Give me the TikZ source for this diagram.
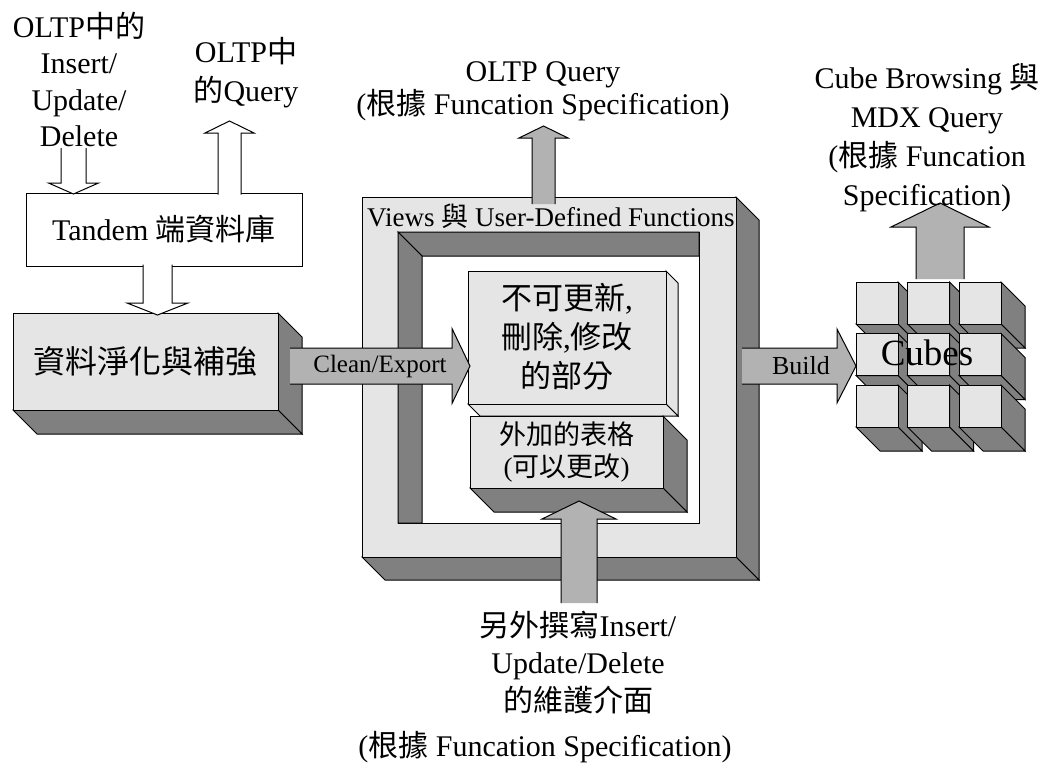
\documentclass[tikz,border=0pt]{standalone}
\usepackage{fontspec}
\setmainfont{Liberation Serif}
\newfontfamily\cjk{Noto Sans CJK TC}
\newcommand{\zh}[1]{{\cjk #1}}
\usetikzlibrary{calc}
\colorlet{facelight}{black!10}
\colorlet{facedark}{black!50}
\colorlet{arrowgray}{black!30}
\tikzstyle{lbl} = [align=center, inner sep=0pt, font=\fontsize{30}{37}\selectfont]

% extruded box: x1, y1, x2, y2, depth, side colour
\newcommand{\solidbox}[6]{%
  \filldraw[fill=#6] (#3,#2) -- ({#3+#5},{#2+#5}) -- ({#3+#5},{#4+#5}) -- (#3,#4) -- cycle;
  \filldraw[fill=#6] (#1,#4) -- (#3,#4) -- ({#3+#5},{#4+#5}) -- ({#1+#5},{#4+#5}) -- cycle;
  \filldraw[fill=facelight] (#1,#2) rectangle (#3,#4);}
% vertical block arrow: fill, x, tail y, head base y, tip y, shaft half, head half
\newcommand{\vblock}[7]{%
  \fill[#1] ({#2-#6},#3) -- ({#2-#6},#4) -- ({#2-#7},#4) -- (#2,#5) -- ({#2+#7},#4) -- ({#2+#6},#4) -- ({#2+#6},#3) -- cycle;
  \draw ({#2-#6},#3) -- ({#2-#6},#4) -- ({#2-#7},#4) -- (#2,#5) -- ({#2+#7},#4) -- ({#2+#6},#4) -- ({#2+#6},#3);}
% horizontal block arrow: fill, y, tail x, head base x, tip x, shaft half, head half
\newcommand{\hblock}[7]{%
  \fill[#1] (#3,{#2-#6}) -- (#4,{#2-#6}) -- (#4,{#2-#7}) -- (#5,#2) -- (#4,{#2+#7}) -- (#4,{#2+#6}) -- (#3,{#2+#6}) -- cycle;
  \draw (#3,{#2-#6}) -- (#4,{#2-#6}) -- (#4,{#2-#7}) -- (#5,#2) -- (#4,{#2+#7}) -- (#4,{#2+#6}) -- (#3,{#2+#6});}

\begin{document}
\begin{tikzpicture}[x=1pt, y=-1pt, line width=1pt,
    dbbox/.style={rectangle, draw, fill=white, minimum width=276, minimum height=73, font=\fontsize{30}{37}\selectfont}]
\useasboundingbox (0,0) rectangle (1046,764);

% source database and cleansing
\node[dbbox] (tandem) at (164,229.5) {Tandem \zh{端資料庫}};
\solidbox{13}{313}{278}{410}{24}{facedark}
\node[lbl, font=\fontsize{32}{38}\selectfont] (cleanse) at (145.5,361.5) {\zh{資料淨化與補強}};

\node[lbl, font=\fontsize{30}{36.5}\selectfont] (iud) at (79,79.5) {OLTP\zh{中的}\\Insert/\\Update/\\Delete};
\node[lbl, font=\fontsize{30}{39}\selectfont] (query) at (246,72.5) {OLTP\zh{中}\\\zh{的}Query};

\vblock{white}{73.5}{148}{183}{194}{12.5}{25}
\vblock{white}{229.5}{194.5}{133}{121}{11.5}{24.5}
\vblock{white}{157.5}{264.5}{303}{315}{14.5}{30.5}

% views frame
\solidbox{362}{197}{736}{557}{23}{facedark}
\filldraw[fill=white] (398,232) rectangle (699,523);
\filldraw[fill=facedark] (398,232) -- (699,232) -- (699,256) -- (422,256) -- cycle;
\filldraw[fill=facedark] (398,232) -- (422,256) -- (422,523) -- (398,523) -- cycle;
\node[lbl, font=\fontsize{27}{32}\selectfont] (views) at (551,216) {Views \zh{與} User-Defined Functions};

\solidbox{468}{271}{666}{404}{12}{facelight}
\node[lbl, font=\fontsize{31}{39}\selectfont] (fixed) at (567,337) {\zh{不可更新},\\\zh{刪除},\zh{修改}\\\zh{的部分}};
\solidbox{470}{416}{663}{488}{24}{facedark}
\node[lbl, font=\fontsize{27}{32}\selectfont] (extra) at (566.5,452) {\zh{外加的表格}\\(\zh{可以更改})};

% cubes
\foreach \r in {0,1,2}{
  \foreach \c in {0,1,2}{
    \pgfmathsetmacro{\cx}{856+51.5*\c}
    \pgfmathsetmacro{\cy}{282+51.5*\r}
    \solidbox{\cx}{\cy}{\cx+42}{\cy+42}{24}{facedark}
  }
}
\node[lbl, font=\fontsize{37}{40}\selectfont] (cubes) at (927,353) {Cubes};

% gray arrows
\hblock{arrowgray}{366}{290}{452}{470}{18}{37.5}
\node[lbl, font=\fontsize{25}{30}\selectfont] (clean) at (380,366) {Clean/Export};
\hblock{arrowgray}{366}{742}{837}{856}{18}{37}
\node[lbl, font=\fontsize{26}{30}\selectfont] (build) at (801,366) {Build};
\vblock{arrowgray}{543.5}{204}{138}{126}{11.5}{24.5}
\vblock{arrowgray}{579}{603}{519}{501}{18}{37}
\vblock{arrowgray}{940}{279}{227}{203}{24}{49}

% outputs
\node[lbl, font=\fontsize{30}{33}\selectfont] (oltpq) at (543,91.5) {OLTP Query\\(\zh{根據} Funcation Specification)};
\node[lbl, font=\fontsize{30}{39}\selectfont] (cubeq) at (927,137.5) {Cube Browsing \zh{與}\\MDX Query\\(\zh{根據} Funcation\\Specification)};
\node[lbl, font=\fontsize{30}{37.5}\selectfont] (maint) at (578,662.5) {\zh{另外撰寫}Insert/\\Update/Delete\\\zh{的維護介面}};
\node[lbl] (spec) at (545,747) {(\zh{根據} Funcation Specification)};

\end{tikzpicture}
\end{document}
